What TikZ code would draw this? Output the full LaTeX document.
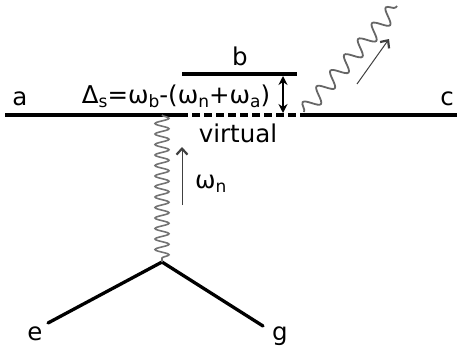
\documentclass[tikz,border=0pt]{standalone}
\usepackage{fontspec}
\setmainfont{DejaVu Sans}
\usetikzlibrary{decorations.pathmorphing,arrows.meta}
\newcommand{\sbx}[1]{\raisebox{-0.35ex}{\fontsize{17}{17}\selectfont #1}}
\tikzset{
  lvl/.style={line width=3.3pt,black},
  virt/.style={line width=3.3pt,black,dash pattern=on 8pt off 4pt},
  photon/.style={draw=black!55,line width=1.6pt,decorate,decoration={snake,amplitude=7pt,segment length=10.5pt}},
  photonb/.style={draw=black!60,line width=1.8pt,decorate,decoration={snake,amplitude=7.5pt,segment length=21pt}},
  dirarrow/.style={draw=black!75,line width=1pt,-{Straight Barb[length=6pt,width=11pt,line width=2.2pt]}},
  lab/.style={anchor=base,inner sep=0pt,font=\fontsize{24.5}{28}\selectfont}
}
\begin{document}
\begin{tikzpicture}[x=1pt,y=-1pt]
\useasboundingbox (0,0) rectangle (458,356);
% levels
\coordinate (a0) at (5,115);
\coordinate (d0) at (180,115);
\coordinate (d1) at (304,115);
\coordinate (c0) at (457,115);
\coordinate (b0) at (182,74);
\coordinate (b1) at (297,74);
\coordinate (v) at (162,262);
\coordinate (e0) at (48,323);
\coordinate (g0) at (263,326);
\coordinate (ph0) at (162,115);
\coordinate (ph1) at (304,112);
\coordinate (ph2) at (397,6);
\draw[lvl] (a0) -- (d0);
\draw[virt] (d0) -- (d1);
\draw[lvl] (d1) -- (c0);
\draw[lvl] (b0) -- (b1);
\draw[lvl,line cap=round] (e0) -- (v) -- (g0);
% photons
\draw[photon] (ph0) -- (v);
\draw[photonb] (ph1) -- (ph2);
% arrows
\coordinate (n0) at (182,205);
\coordinate (n1) at (182,147);
\draw[dirarrow] (n0) -- (n1);
\coordinate (s0) at (357,84);
\coordinate (s1) at (389,39);
\draw[dirarrow] (s0) -- (s1);
\coordinate (da) at (283,76);
\coordinate (db) at (283,113);
\draw[line width=2pt,{Stealth[length=9pt,width=9pt]}-{Stealth[length=9pt,width=9pt]}] (da) -- (db);
% labels
\node[lab] (la) at (20,105) {a};
\node[lab] (lc) at (447,105) {c};
\node[lab] (lb) at (240,65) {b};
\node[lab] (le) at (35,340) {e};
\node[lab] (lg) at (280,340) {g};
\node[lab] (lv) at (238,142) {virtual};
\node[lab,anchor=base west] (lw) at (195,188) {ω\sbx{n}};
\node[lab] (ld) at (176,103) {Δ\sbx{s}=ω\sbx{b}-(ω\sbx{n}+ω\sbx{a})};
\end{tikzpicture}
\end{document}
